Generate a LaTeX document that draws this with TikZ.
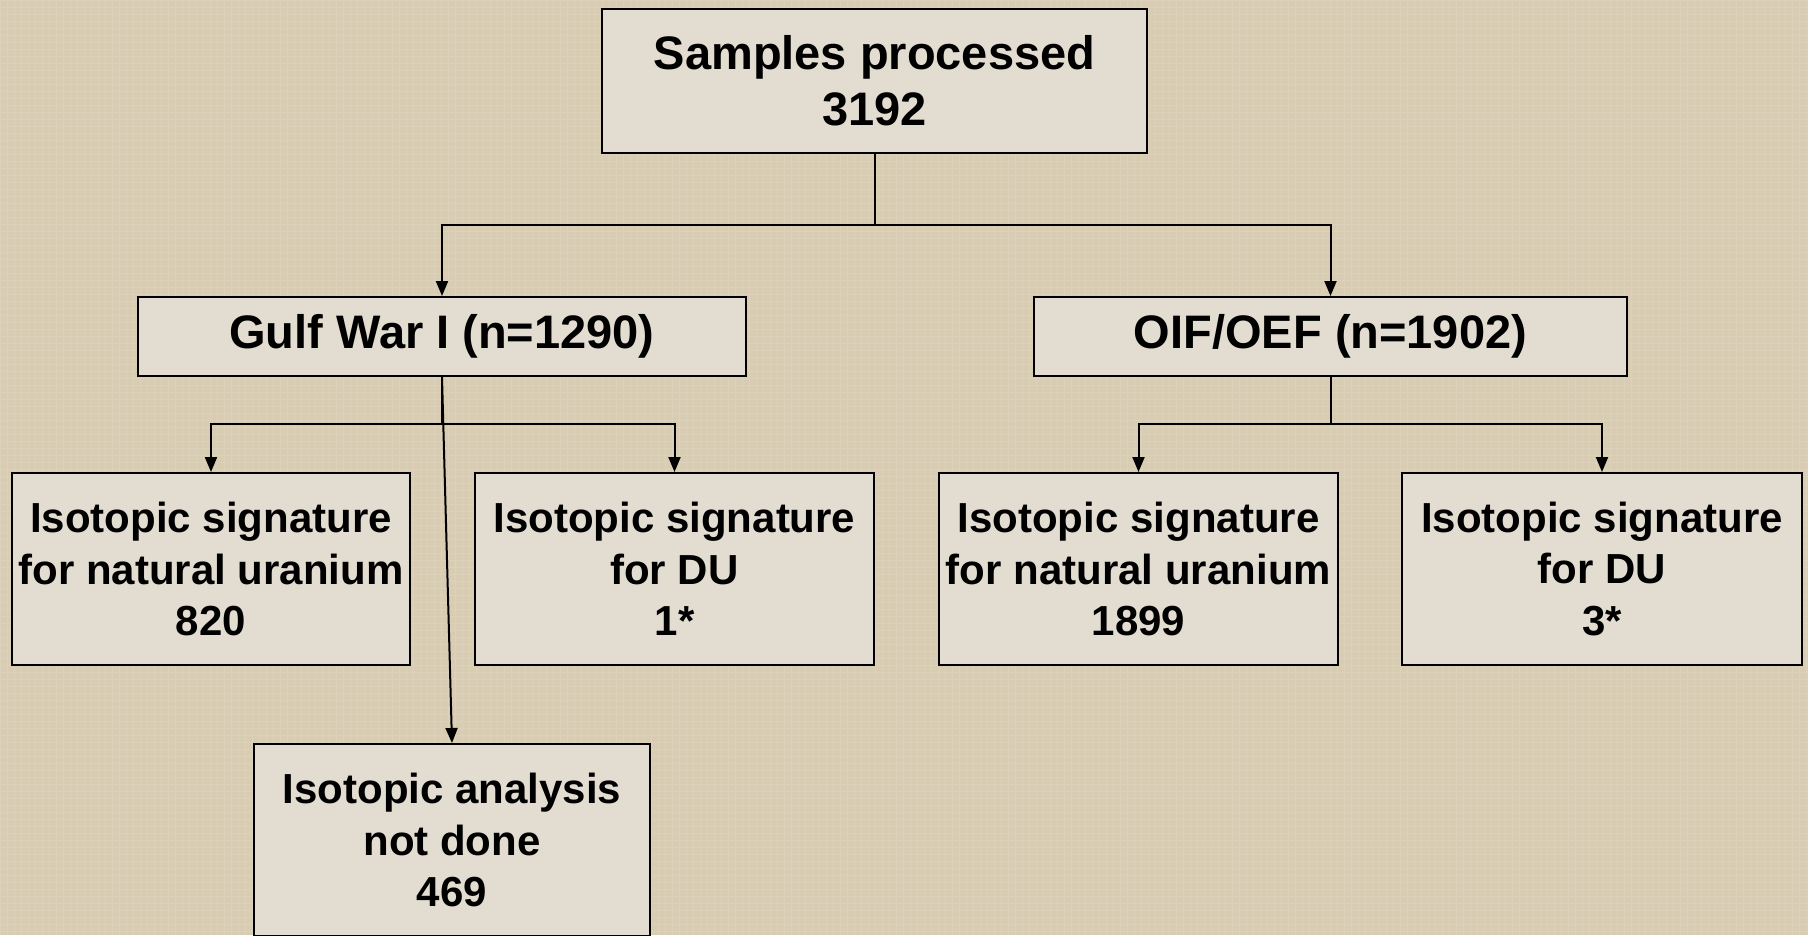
\documentclass[tikz,border=0pt]{standalone}
\usepackage{fontspec}
\setmainfont{Liberation Sans}
\usetikzlibrary{arrows.meta}
\definecolor{bgc}{RGB}{216,204,178}
\definecolor{boxc}{RGB}{226,220,209}
\begin{document}
\begin{tikzpicture}[x=1pt,y=-1pt,
  box/.style={draw=black,line width=2pt,fill=boxc,rectangle,inner sep=0pt,align=center,anchor=center},
  bigtxt/.style={font=\fontsize{47}{56}\selectfont\bfseries},
  smtxt/.style={font=\fontsize{42}{51.5}\selectfont\bfseries},
  conn/.style={draw=black,line width=2pt},
  arr/.style={conn,-{Triangle[length=15pt,width=12pt]}}]
\useasboundingbox (0,0) rectangle (1808,935);
\fill[bgc] (0,0) rectangle (1808,935);
\draw[step=7pt,white,opacity=0.12,line width=1pt] (0,0) grid (1808,935);
% nodes
\node[box,bigtxt,minimum width=545pt,minimum height=144pt] (top) at (874.5,81) {Samples processed\\3192};
\node[box,bigtxt,minimum width=608pt,minimum height=79pt] (gulf) at (442,336.5) {Gulf War I (n=1290)};
\node[box,bigtxt,minimum width=593pt,minimum height=79pt] (oif) at (1330.5,336.5) {OIF/OEF (n=1902)};
\node[box,smtxt,minimum width=398pt,minimum height=192pt] (nu1) at (211,569) {Isotopic signature\\for natural uranium\\820};
\node[box,smtxt,minimum width=399pt,minimum height=192pt] (du1) at (674.5,569) {Isotopic signature\\for DU\\1*};
\node[box,smtxt,minimum width=399pt,minimum height=192pt] (nu2) at (1138.5,569) {Isotopic signature\\for natural uranium\\1899};
\node[box,smtxt,minimum width=400pt,minimum height=192pt] (du2) at (1602,569) {Isotopic signature\\for DU\\3*};
\node[box,smtxt,minimum width=396pt,minimum height=192pt] (nd) at (452,840) {Isotopic analysis\\not done\\469};
% junctions
\coordinate (j1) at (874.5,225);
\coordinate (j2) at (442,424);
\coordinate (j3) at (1330.5,424);
% connectors
\draw[conn] (top.south) -- (j1);
\draw[arr] (j1) -| (gulf.north);
\draw[arr] (j1) -| (oif.north);
\draw[conn] (gulf.south) -- (j2);
\draw[arr] (j2) -| (nu1.north);
\draw[arr] (j2) -| (du1.north);
\draw[arr] (gulf.south) -- (nd.north);
\draw[conn] (oif.south) -- (j3);
\draw[arr] (j3) -| (nu2.north);
\draw[arr] (j3) -| (du2.north);
\end{tikzpicture}
\end{document}
